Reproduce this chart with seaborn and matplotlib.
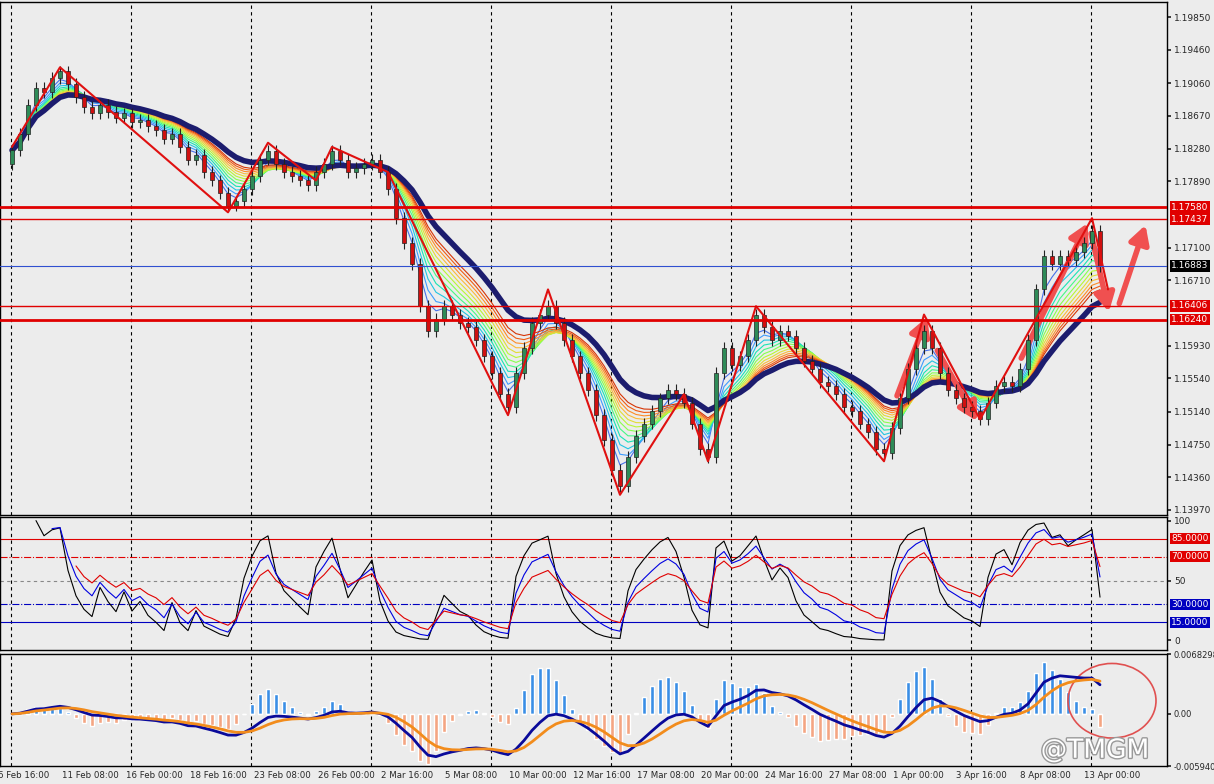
import numpy as np
import pandas as pd
import matplotlib
matplotlib.use("Agg")
import matplotlib.pyplot as plt
import matplotlib.patheffects as pe
import seaborn as sns
from matplotlib.patches import Ellipse

sns.set_theme(style="white")
plt.rcParams['font.family'] = ['DejaVu Sans']

# 종가 (대략 8px 간격으로 읽은 값)
closes = [1.1826, 1.1845, 1.1880, 1.1900, 1.1895, 1.1912, 1.1920, 1.1905, 1.1890, 1.1878,
          1.1870, 1.1880, 1.1872, 1.1865, 1.1870, 1.1860, 1.1862, 1.1855, 1.1850, 1.1840,
          1.1845, 1.1830, 1.1815, 1.1820, 1.1800, 1.1790, 1.1775, 1.1760, 1.1765, 1.1780,
          1.1795, 1.1815, 1.1825, 1.1810, 1.1800, 1.1795, 1.1790, 1.1785, 1.1800, 1.1810,
          1.1825, 1.1815, 1.1800, 1.1805, 1.1810, 1.1815, 1.1800, 1.1780, 1.1745, 1.1715,
          1.1690, 1.1640, 1.1610, 1.1625, 1.1640, 1.1630, 1.1620, 1.1615, 1.1600, 1.1580,
          1.1560, 1.1535, 1.1520, 1.1560, 1.1590, 1.1620, 1.1630, 1.1640, 1.1620, 1.1600,
          1.1580, 1.1560, 1.1540, 1.1510, 1.1480, 1.1445, 1.1425, 1.1460, 1.1485, 1.1500,
          1.1515, 1.1530, 1.1540, 1.1535, 1.1525, 1.1500, 1.1470, 1.1460, 1.1560, 1.1590,
          1.1570, 1.1580, 1.1600, 1.1630, 1.1615, 1.1600, 1.1610, 1.1605, 1.1590, 1.1575,
          1.1565, 1.1550, 1.1545, 1.1535, 1.1520, 1.1515, 1.1500, 1.1490, 1.1470, 1.1465,
          1.1495, 1.1530, 1.1565, 1.1590, 1.1610, 1.1590, 1.1560, 1.1540, 1.1530, 1.1520,
          1.1515, 1.1505, 1.1525, 1.1545, 1.1550, 1.1545, 1.1565, 1.1600, 1.1660, 1.1700,
          1.1690, 1.1700, 1.1695, 1.1705, 1.1715, 1.1730, 1.1688]
open_first = 1.1810

# 지그재그 (봉 번호, 가격)
zz_idx = [0, 6, 27, 32, 38, 40, 47, 62, 67, 76, 84, 87, 93, 109, 114, 121, 135, 137]
zz_px = [1.1830, 1.1925, 1.1752, 1.1835, 1.1790, 1.1830, 1.1800, 1.1510, 1.1660, 1.1415,
         1.1535, 1.1455, 1.1640, 1.1455, 1.1630, 1.1505, 1.1745, 1.1660]

# 수평선
h_red_thick = [1.17580, 1.16240]
h_red_thin = [1.17437, 1.16406]
bid_line = 1.16883

price_ticks = [1.19850, 1.19460, 1.19060, 1.18670, 1.18280, 1.17890, 1.17100,
               1.16710, 1.15930, 1.15540, 1.15140, 1.14750, 1.14360, 1.13970]
date_labels = ['6 Feb 16:00', '11 Feb 08:00', '16 Feb 00:00', '18 Feb 16:00', '23 Feb 08:00',
               '26 Feb 00:00', '2 Mar 16:00', '5 Mar 08:00', '10 Mar 00:00', '12 Mar 16:00',
               '17 Mar 08:00', '20 Mar 00:00', '24 Mar 16:00', '27 Mar 08:00', '1 Apr 00:00',
               '3 Apr 16:00', '8 Apr 08:00', '13 Apr 00:00']

df = pd.DataFrame({'close': closes})
df['open'] = df['close'].shift(1).fillna(open_first)
df['high'] = df[['open', 'close']].max(axis=1) + 0.0007
df['low'] = df[['open', 'close']].min(axis=1) - 0.0007
n = len(df)
x = np.arange(n)

W, H = 1214, 784
BG = '#ececec'
fig = plt.figure(figsize=(W / 100, H / 100), dpi=100, facecolor=BG)
def pane(top, bot):
    a = fig.add_axes([0, 1 - bot / H, 1167 / W, (bot - top) / H], facecolor=BG)
    a.yaxis.tick_right()
    a.tick_params(axis='y', labelsize=6.5, length=3, pad=2, right=True)
    a.set_xticks([])
    for s in a.spines.values():
        s.set_color('black'); s.set_linewidth(1)
    a.set_xlim(-1.5, 1167 / 8 - 1.5)
    return a

ax = pane(2, 515)
ax2 = pane(517, 650)
ax3 = pane(654, 766)

vlines = [(11 + 120 * k) / 8 - 1.5 for k in range(10)]
for a in (ax, ax2, ax3):
    for v in vlines:
        a.axvline(v, color='black', ls=(0, (3, 3)), lw=0.8, zorder=0)

# 가격 패널
ax.set_ylim(1.13909, 1.20029)
ax.set_yticks(price_ticks)
ax.set_yticklabels([f'{t:.5f}' for t in price_ticks])

pal = sns.color_palette('turbo', 14)[1:13]
for i, p in enumerate(range(3, 15)):
    ax.plot(x, df['close'].ewm(span=p).mean(), color=pal[i], lw=0.8, zorder=2)
ax.plot(x, df['close'].ewm(span=18).mean(), color='#1c1c6e', lw=4, zorder=3)

up = df['close'] >= df['open']
ax.vlines(x, df['low'], df['high'], color='#222222', lw=0.8, zorder=4)
ax.bar(x[up], (df['close'] - df['open'])[up], bottom=df['open'][up], width=0.5,
       color='#2e8b57', edgecolor='#222222', lw=0.5, zorder=5)
ax.bar(x[~up], (df['close'] - df['open'])[~up], bottom=df['open'][~up], width=0.5,
       color='#d01010', edgecolor='#222222', lw=0.5, zorder=5)

ax.plot(zz_idx, zz_px, color='#e01010', lw=1.5, zorder=6)

for h in h_red_thick:
    ax.axhline(h, color='#e00000', lw=2, zorder=6)
for h in h_red_thin:
    ax.axhline(h, color='#e00000', lw=1, zorder=6)
ax.axhline(bid_line, color='#3050d0', lw=0.8, zorder=6)

box = dict(boxstyle='square,pad=0.15', lw=0)
for h in h_red_thick + h_red_thin:
    ax.annotate(f'{h:.5f}', xy=(1.0, h), xycoords=('axes fraction', 'data'), xytext=(3, 0),
                textcoords='offset points', va='center', fontsize=6.5, color='white',
                bbox={**box, 'fc': '#e00000'}, annotation_clip=False)
ax.annotate(f'{bid_line:.5f}', xy=(1.0, bid_line), xycoords=('axes fraction', 'data'),
            xytext=(3, 0), textcoords='offset points', va='center', fontsize=6.5, color='white',
            bbox={**box, 'fc': 'black'}, annotation_clip=False)

# 화살표 (분홍/빨강)
arr = dict(arrowstyle='-|>,head_width=0.5,head_length=0.9', color='#f05050', lw=4)
ax.annotate('', xy=(114.5, 1.1630), xytext=(110.5, 1.1530), arrowprops=arr)
ax.annotate('', xy=(120.8, 1.1500), xytext=(115.5, 1.1590), arrowprops=arr)
ax.annotate('', xy=(134.6, 1.1742), xytext=(126.0, 1.1575), arrowprops=arr)
ax.annotate('', xy=(137.2, 1.1630), xytext=(134.8, 1.1730), arrowprops=arr)
ax.annotate('', xy=(141.8, 1.1740), xytext=(138.3, 1.1640), arrowprops=arr)

# 오실레이터 패널 (RSI 3개)
def rsi(s, p):
    d = s.diff()
    g = d.clip(lower=0).ewm(alpha=1 / p, min_periods=p).mean()
    l = (-d.clip(upper=0)).ewm(alpha=1 / p, min_periods=p).mean()
    return 100 - 100 / (1 + g / (l + 1e-9))

ax2.set_ylim(-8, 103)
ax2.set_yticks([100, 50, 0])
ax2.set_yticklabels(['100', '50', '0'])
ax2.axhline(85, color='#e00000', lw=0.8)
ax2.axhline(70, color='#e00000', lw=0.8, ls='-.')
ax2.axhline(50, color='#888888', lw=0.8, ls=(0, (3, 3)))
ax2.axhline(30, color='#0000c0', lw=0.8, ls='-.')
ax2.axhline(15, color='#0000c0', lw=0.8)
ax2.plot(x, rsi(df['close'], 3), color='black', lw=0.8)
ax2.plot(x, rsi(df['close'], 5), color='#0000e0', lw=0.8)
ax2.plot(x, rsi(df['close'], 8), color='#e00000', lw=0.8)
for lv, c in [(85, '#e00000'), (70, '#e00000'), (30, '#0000c0'), (15, '#0000c0')]:
    ax2.annotate(f'{lv:.4f}', xy=(1.0, lv), xycoords=('axes fraction', 'data'), xytext=(3, 0),
                 textcoords='offset points', va='center', fontsize=6.5, color='white',
                 bbox={**box, 'fc': c}, annotation_clip=False)

# MACD 패널
fast = df['close'].ewm(span=6).mean()
slow = df['close'].ewm(span=13).mean()
macd = fast - slow
sig = macd.ewm(span=5).mean()
hist = (macd - sig) * 3.5
ax3.set_ylim(-0.00594, 0.006829)
ax3.set_yticks([0.006829, 0.0, -0.00594])
ax3.set_yticklabels(['0.0068298', '0.00', '-0.005940'], fontsize=6)
ax3.bar(x, hist.where(hist > 0, 0), width=0.6, color='#3a8ee6')
ax3.bar(x, hist.where(hist < 0, 0), width=0.6, color='#f4a582')
ax3.plot(x, macd, color='#0a0a9a', lw=2)
ax3.plot(x, sig, color='#f28c1c', lw=2)
ax3.add_patch(Ellipse((137.5, 0.0015), 11, 0.0085, fill=False, ec='#e05050', lw=1.2))
ax3.text(0.985, 0.02, '@TMGM', transform=ax3.transAxes, ha='right', va='bottom',
         fontsize=19, color='white',
         path_effects=[pe.withStroke(linewidth=2, foreground='#999999')])

for i, lab in enumerate(date_labels):
    px = -2 + 63.9 * i
    fig.text(px / W, 1 - 775 / H, lab, fontsize=6.2, ha='left', va='center')

fig.savefig('out.png', dpi=100, facecolor=BG)
